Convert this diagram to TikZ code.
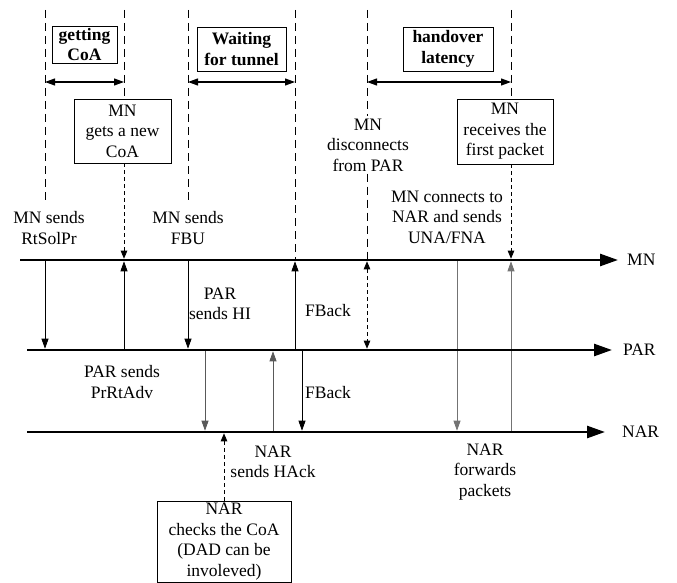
\documentclass[tikz,border=0pt]{standalone}
\usepackage{fontspec}
\setmainfont{Liberation Serif}
\usepackage{tikz}
\usetikzlibrary{shapes,arrows.meta,positioning}
\tikzset{
  every node/.style={font=\rmfamily\fontsize{17.5}{20.5}\selectfont, inner sep=2pt, align=center},
  timeline/.style={draw, line width=2.6pt, -{Triangle[length=18pt,width=12pt]}},
  phase/.style={draw, line width=1pt, dash pattern=on 8pt off 5pt},
  note/.style={draw, line width=0.7pt, dash pattern=on 4pt off 3pt},
  msg/.style={draw, line width=0.8pt, -{Triangle[length=10pt,width=7pt]}, shorten >=1.3pt},
  period/.style={draw, line width=1.1pt, {Triangle[length=10pt,width=7pt]}-{Triangle[length=10pt,width=7pt]}},
  tipend/.style={-{Triangle[length=8pt,width=6.5pt]}, shorten >=1.3pt},
  bothend/.style={{Triangle[length=8pt,width=6.5pt]}-{Triangle[length=8pt,width=6.5pt]}, shorten >=1.3pt, shorten <=1.3pt},
  phasebox/.style={draw, line width=0.8pt, font=\rmfamily\fontsize{17.5}{20.5}\selectfont\bfseries, inner sep=0pt},
  eventbox/.style={draw, line width=0.8pt, inner sep=0pt}
}

\begin{document}
\begin{tikzpicture}[x=1pt, y=-1pt]
\useasboundingbox (0,0) rectangle (677,583);
% columns and rows
\foreach \n/\x in {rsol/45, coa/124, fbu/188, hi/205, dadx/224, hack/273,
                   fbk/295, fbk2/302, dis/367, fwd/457, rcv/511}
  \coordinate (\n) at (\x,0);
\coordinate (top) at (0,10);
\coordinate (span) at (0,82);
\coordinate (cut) at (0,203);
\coordinate (mnL) at (20,260);  \coordinate (mnR) at (618,260);
\coordinate (parL) at (27,350); \coordinate (parR) at (612,350);
\coordinate (narL) at (27,432); \coordinate (narR) at (605,432);
%
\node[phasebox, minimum width=65pt, minimum height=37pt] (getcoa) at (84.5,44.5) {getting\\CoA};
\node[phasebox, minimum width=89pt, minimum height=44pt] (waiting) at (241.5,49) {Waiting\\for tunnel};
\node[phasebox, minimum width=90pt, minimum height=44pt] (latency) at (448,49) {handover\\latency};
\node[eventbox, minimum width=97pt, minimum height=64pt] (newcoa) at (122.5,131) {MN\\gets a new\\CoA};
\node[eventbox, minimum width=96pt, minimum height=65pt] (firstpkt) at (505,131.5) {MN\\receives the\\first packet};
\node[eventbox, minimum width=134pt, minimum height=81pt] (dad) at (224,541.5) {NAR\\checks the CoA\\(DAD can be\\involeved)};
%
\node (rtsolpr) at (49,228) {MN sends\\RtSolPr};
\node (fbutxt) at (188,228) {MN sends\\FBU};
\node (disc) at (368,145) {MN\\disconnects\\from PAR};
\node (una) at (447,217) {MN connects to\\NAR and sends\\UNA/FNA};
\node (hitxt) at (220,304) {PAR\\sends HI};
\node (fback1) at (328,311) {FBack};
\node (prrtadv) at (122,382) {PAR sends\\PrRtAdv};
\node (fback2) at (328,393) {FBack};
\node (hacktxt) at (273,462) {NAR\\sends HAck};
\node (fwdtxt) at (485,472) {NAR\\forwards\\packets};
%
\node (mnlab) [right=7pt of mnR] {MN};
\node (parlab) [right=9pt of parR] {PAR};
\node (narlab) [right=15pt of narR] {NAR};
%
\draw[phase] (rsol |- top) -- (rsol |- cut);
\draw[phase] (coa |- top) -- (newcoa.north -| coa);
\draw[phase] (fbu |- top) -- (fbu |- cut);
\draw[phase] (fbk |- top) -- (fbk |- mnL);
\draw[phase] (dis |- top) -- (disc.north -| dis);
\draw[phase] (disc.south -| dis) -- (dis |- mnL);
\draw[phase] (rcv |- top) -- (firstpkt.north -| rcv);
%
\draw[period] (rsol |- span) -- (coa |- span);
\draw[period] (fbu |- span) -- (fbk |- span);
\draw[period] (dis |- span) -- (rcv |- span);
%
\draw[note, tipend] (newcoa.south -| coa) -- (coa |- mnL);
\draw[note, tipend] (firstpkt.south -| rcv) -- (rcv |- mnL);
\draw[note, tipend] (dad.north -| dadx) -- (dadx |- narL);
\draw[note, bothend] (dis |- mnL) -- (dis |- parL);
%
\draw[msg] (rsol |- mnL) -- (rsol |- parL);
\draw[msg] (coa |- parL) -- (coa |- mnL);
\draw[msg] (fbu |- mnL) -- (fbu |- parL);
\draw[msg] (fbk |- parL) -- (fbk |- mnL);
\draw[msg, black!65] (hi |- parL) -- (hi |- narL);
\draw[msg, black!65] (hack |- narL) -- (hack |- parL);
\draw[msg] (fbk2 |- parL) -- (fbk2 |- narL);
\draw[msg, black!55] (fwd |- mnL) -- (fwd |- narL);
\draw[msg, black!55] (rcv |- narL) -- (rcv |- mnL);
%
\draw[timeline] (mnL) -- (mnR);
\draw[timeline] (parL) -- (parR);
\draw[timeline] (narL) -- (narR);
\end{tikzpicture}
\end{document}
